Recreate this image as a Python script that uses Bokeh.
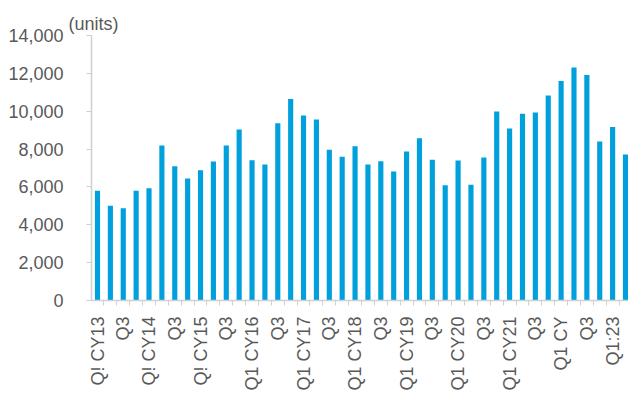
import numpy as np
from bokeh.plotting import figure
from bokeh.models import Range1d, FixedTicker, NumeralTickFormatter, ColumnDataSource
from bokeh.embed import file_html
from bokeh.resources import INLINE

# Quarterly sales volume, Q1 CY13 through Q2 CY23
quarters = [f"Q{q} CY{y}" for y in range(13, 24) for q in range(1, 5)][:42]
units = [5800, 5000, 4870, 5800, 5930, 8190, 7090, 6440,
         6880, 7340, 8190, 9030, 7410, 7180, 9370, 10640,
         9770, 9560, 7960, 7600, 8150, 7180, 7360, 6810,
         7870, 8570, 7440, 6090, 7390, 6120, 7550, 9980,
         9090, 9860, 9930, 10830, 11590, 12310, 11910, 8400,
         9160, 7710]
# Axis labels shown on every second quarter
tick_labels = ["Q! CY13", "Q3", "Q! CY14", "Q3", "Q! CY15", "Q3",
               "Q1 CY16", "Q3", "Q1 CY17", "Q3", "Q1 CY18", "Q3",
               "Q1 CY19", "Q3", "Q1 CY20", "Q3", "Q1 CY21", "Q3",
               "Q1 CY", "Q3", "Q1:23"]
y_ticks = [0, 2000, 4000, 6000, 8000, 10000, 12000, 14000]

pos = np.arange(1, len(units) + 1)
src = ColumnDataSource(dict(x=pos, top=units, name=quarters))

FONT = "Liberation Sans"
TEXT = "#595959"
AXIS = "#d0d0d0"

p = figure(width=628, height=394, output_backend="svg", toolbar_location=None,
           x_range=Range1d(0.534, 42.233), y_range=Range1d(0, 14000),
           min_border_left=91, min_border_right=0, min_border_top=35,
           min_border_bottom=94, title="(units)")
p.outline_line_color = None
p.background_fill_color = "white"
p.border_fill_color = "white"
p.xgrid.visible = False
p.ygrid.visible = False

# unit caption sitting above the top of the y axis
p.title.align = "left"
p.title.offset = -23
p.title.standoff = 4
p.title.text_font = FONT
p.title.text_font_size = "18px"
p.title.text_font_style = "normal"
p.title.text_color = TEXT

p.vbar(x="x", top="top", width=0.4, bottom=0, source=src,
       fill_color="#00a0dc", line_color=None)

# x axis: labels under alternate bars, short ticks between bars
label_pos = [int(v) for v in pos[::2]]
p.xaxis.ticker = FixedTicker(ticks=label_pos,
                             minor_ticks=[float(v) + 0.5 for v in range(0, len(units) + 1)])
p.xaxis.major_label_overrides = {k: t for k, t in zip(label_pos, tick_labels)}
p.xaxis.major_label_orientation = np.pi / 2
p.xaxis.major_tick_out = 0
p.xaxis.major_tick_in = 0
p.xaxis.minor_tick_out = 5
p.xaxis.minor_tick_in = 0
p.xaxis.minor_tick_line_color = AXIS
p.xaxis.axis_line_color = AXIS
p.xaxis.axis_line_width = 1.5
p.xaxis.major_label_standoff = 11
p.xaxis.major_label_text_font = FONT
p.xaxis.major_label_text_font_size = "18px"
p.xaxis.major_label_text_color = TEXT

# y axis
p.yaxis.ticker = FixedTicker(ticks=y_ticks, minor_ticks=[])
p.yaxis.formatter = NumeralTickFormatter(format="0,0")
p.yaxis.major_tick_out = 5
p.yaxis.major_tick_in = 0
p.yaxis.major_tick_line_color = AXIS
p.yaxis.axis_line_color = AXIS
p.yaxis.axis_line_width = 1.5
p.yaxis.major_label_standoff = 23
p.yaxis.major_label_text_font = FONT
p.yaxis.major_label_text_font_size = "18px"
p.yaxis.major_label_text_color = TEXT

open("out.html", "w").write(file_html(p, INLINE))
